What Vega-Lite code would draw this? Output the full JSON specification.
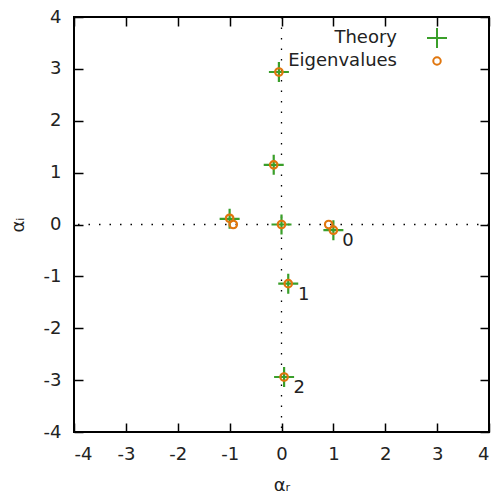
{
  "$schema": "https://vega.github.io/schema/vega-lite/v6.json",
  "width": 415,
  "height": 415,
  "autosize": "none",
  "padding": {"left": 74, "top": 17, "right": 7, "bottom": 63},
  "background": "white",
  "config": {
    "view": {"stroke": "black", "strokeWidth": 2},
    "font": "DejaVu Sans",
    "axis": {
      "domain": false,
      "grid": false,
      "tickColor": "black",
      "tickWidth": 1.5,
      "tickSize": -9,
      "labelFont": "DejaVu Sans",
      "labelFontSize": 18,
      "labelColor": "#222222",
      "labelExpr": "'' + datum.value",
      "titleFont": "DejaVu Sans",
      "titleFontSize": 18,
      "titleFontWeight": "normal",
      "titleColor": "#222222"
    }
  },
  "datasets": {
    "points": [
      {"type": "Theory", "re": -0.05, "im": 2.94},
      {"type": "Theory", "re": -0.15, "im": 1.15},
      {"type": "Theory", "re": -1.0, "im": 0.11},
      {"type": "Theory", "re": 0.0, "im": 0.0},
      {"type": "Theory", "re": 1.0, "im": -0.11},
      {"type": "Theory", "re": 0.13, "im": -1.14},
      {"type": "Theory", "re": 0.05, "im": -2.94},
      {"type": "Eigenvalues", "re": -0.05, "im": 2.94},
      {"type": "Eigenvalues", "re": -0.15, "im": 1.15},
      {"type": "Eigenvalues", "re": -1.0, "im": 0.12},
      {"type": "Eigenvalues", "re": -0.93, "im": 0.0},
      {"type": "Eigenvalues", "re": 0.0, "im": 0.0},
      {"type": "Eigenvalues", "re": 0.91, "im": 0.0},
      {"type": "Eigenvalues", "re": 1.0, "im": -0.11},
      {"type": "Eigenvalues", "re": 0.13, "im": -1.14},
      {"type": "Eigenvalues", "re": 0.05, "im": -2.94}
    ],
    "labels": [
      {"text": "0", "re": 1.28, "im": -0.32},
      {"text": "1", "re": 0.43, "im": -1.35},
      {"text": "2", "re": 0.34, "im": -3.15}
    ],
    "zero": [{"v": 0}]
  },
  "resolve": {"axis": {"x": "independent", "y": "independent"}},
  "layer": [
    {
      "data": {"name": "zero"},
      "mark": {"type": "rule", "color": "black", "strokeWidth": 1.3, "strokeDash": [1.5, 9]},
      "encoding": {
        "x": {"field": "v", "type": "quantitative", "scale": {"domain": [-4, 4], "nice": false, "zero": false},
              "axis": {"orient": "bottom", "values": [-4, -3, -2, -1, 0, 1, 2, 3, 4], "labelPadding": 22, "title": "αᵣ", "titlePadding": 13}}
      }
    },
    {
      "data": {"name": "zero"},
      "mark": {"type": "rule", "color": "black", "strokeWidth": 1.3, "strokeDash": [1.5, 9]},
      "encoding": {
        "y": {"field": "v", "type": "quantitative", "scale": {"domain": [-4, 4], "nice": false, "zero": false},
              "axis": {"orient": "left", "values": [-4, -3, -2, -1, 0, 1, 2, 3, 4], "labelPadding": 22, "title": "αᵢ", "titlePadding": 16}}
      }
    },
    {
      "data": {"name": "points"},
      "mark": {"type": "point", "filled": false, "strokeWidth": 2.2, "opacity": 1},
      "encoding": {
        "x": {"field": "re", "type": "quantitative", "axis": {"orient": "top", "values": [-4, -3, -2, -1, 0, 1, 2, 3, 4], "labels": false, "title": null}},
        "y": {"field": "im", "type": "quantitative", "axis": {"orient": "right", "values": [-4, -3, -2, -1, 0, 1, 2, 3, 4], "labels": false, "title": null}},
        "color": {"field": "type", "type": "nominal", "sort": ["Theory", "Eigenvalues"],
                  "scale": {"domain": ["Theory", "Eigenvalues"], "range": ["#3a9f2a", "#e0760e"]},
                  "legend": {"orient": "none", "legendX": 352, "legendY": 10, "title": null, "padding": 0, "rowPadding": 0,
                             "labelAlign": "right", "labelOffset": -51, "labelFontSize": 18, "labelFont": "DejaVu Sans", "labelColor": "#222222",
                             "symbolStrokeWidth": 2, "symbolFillColor": "transparent"}},
        "shape": {"field": "type", "type": "nominal", "sort": ["Theory", "Eigenvalues"],
                  "scale": {"domain": ["Theory", "Eigenvalues"], "range": ["M-1,0H1M0,-1V1", "circle"]}},
        "size": {"field": "type", "type": "nominal", "sort": ["Theory", "Eigenvalues"],
                 "scale": {"domain": ["Theory", "Eigenvalues"], "range": [400, 56]}},
        "order": {"field": "type", "sort": "descending"}
      }
    },
    {
      "data": {"name": "labels"},
      "mark": {"type": "text", "fontSize": 18, "font": "DejaVu Sans", "color": "#222222", "align": "center", "baseline": "middle"},
      "encoding": {
        "x": {"field": "re", "type": "quantitative", "axis": null},
        "y": {"field": "im", "type": "quantitative", "axis": null},
        "text": {"field": "text"}
      }
    }
  ]
}
